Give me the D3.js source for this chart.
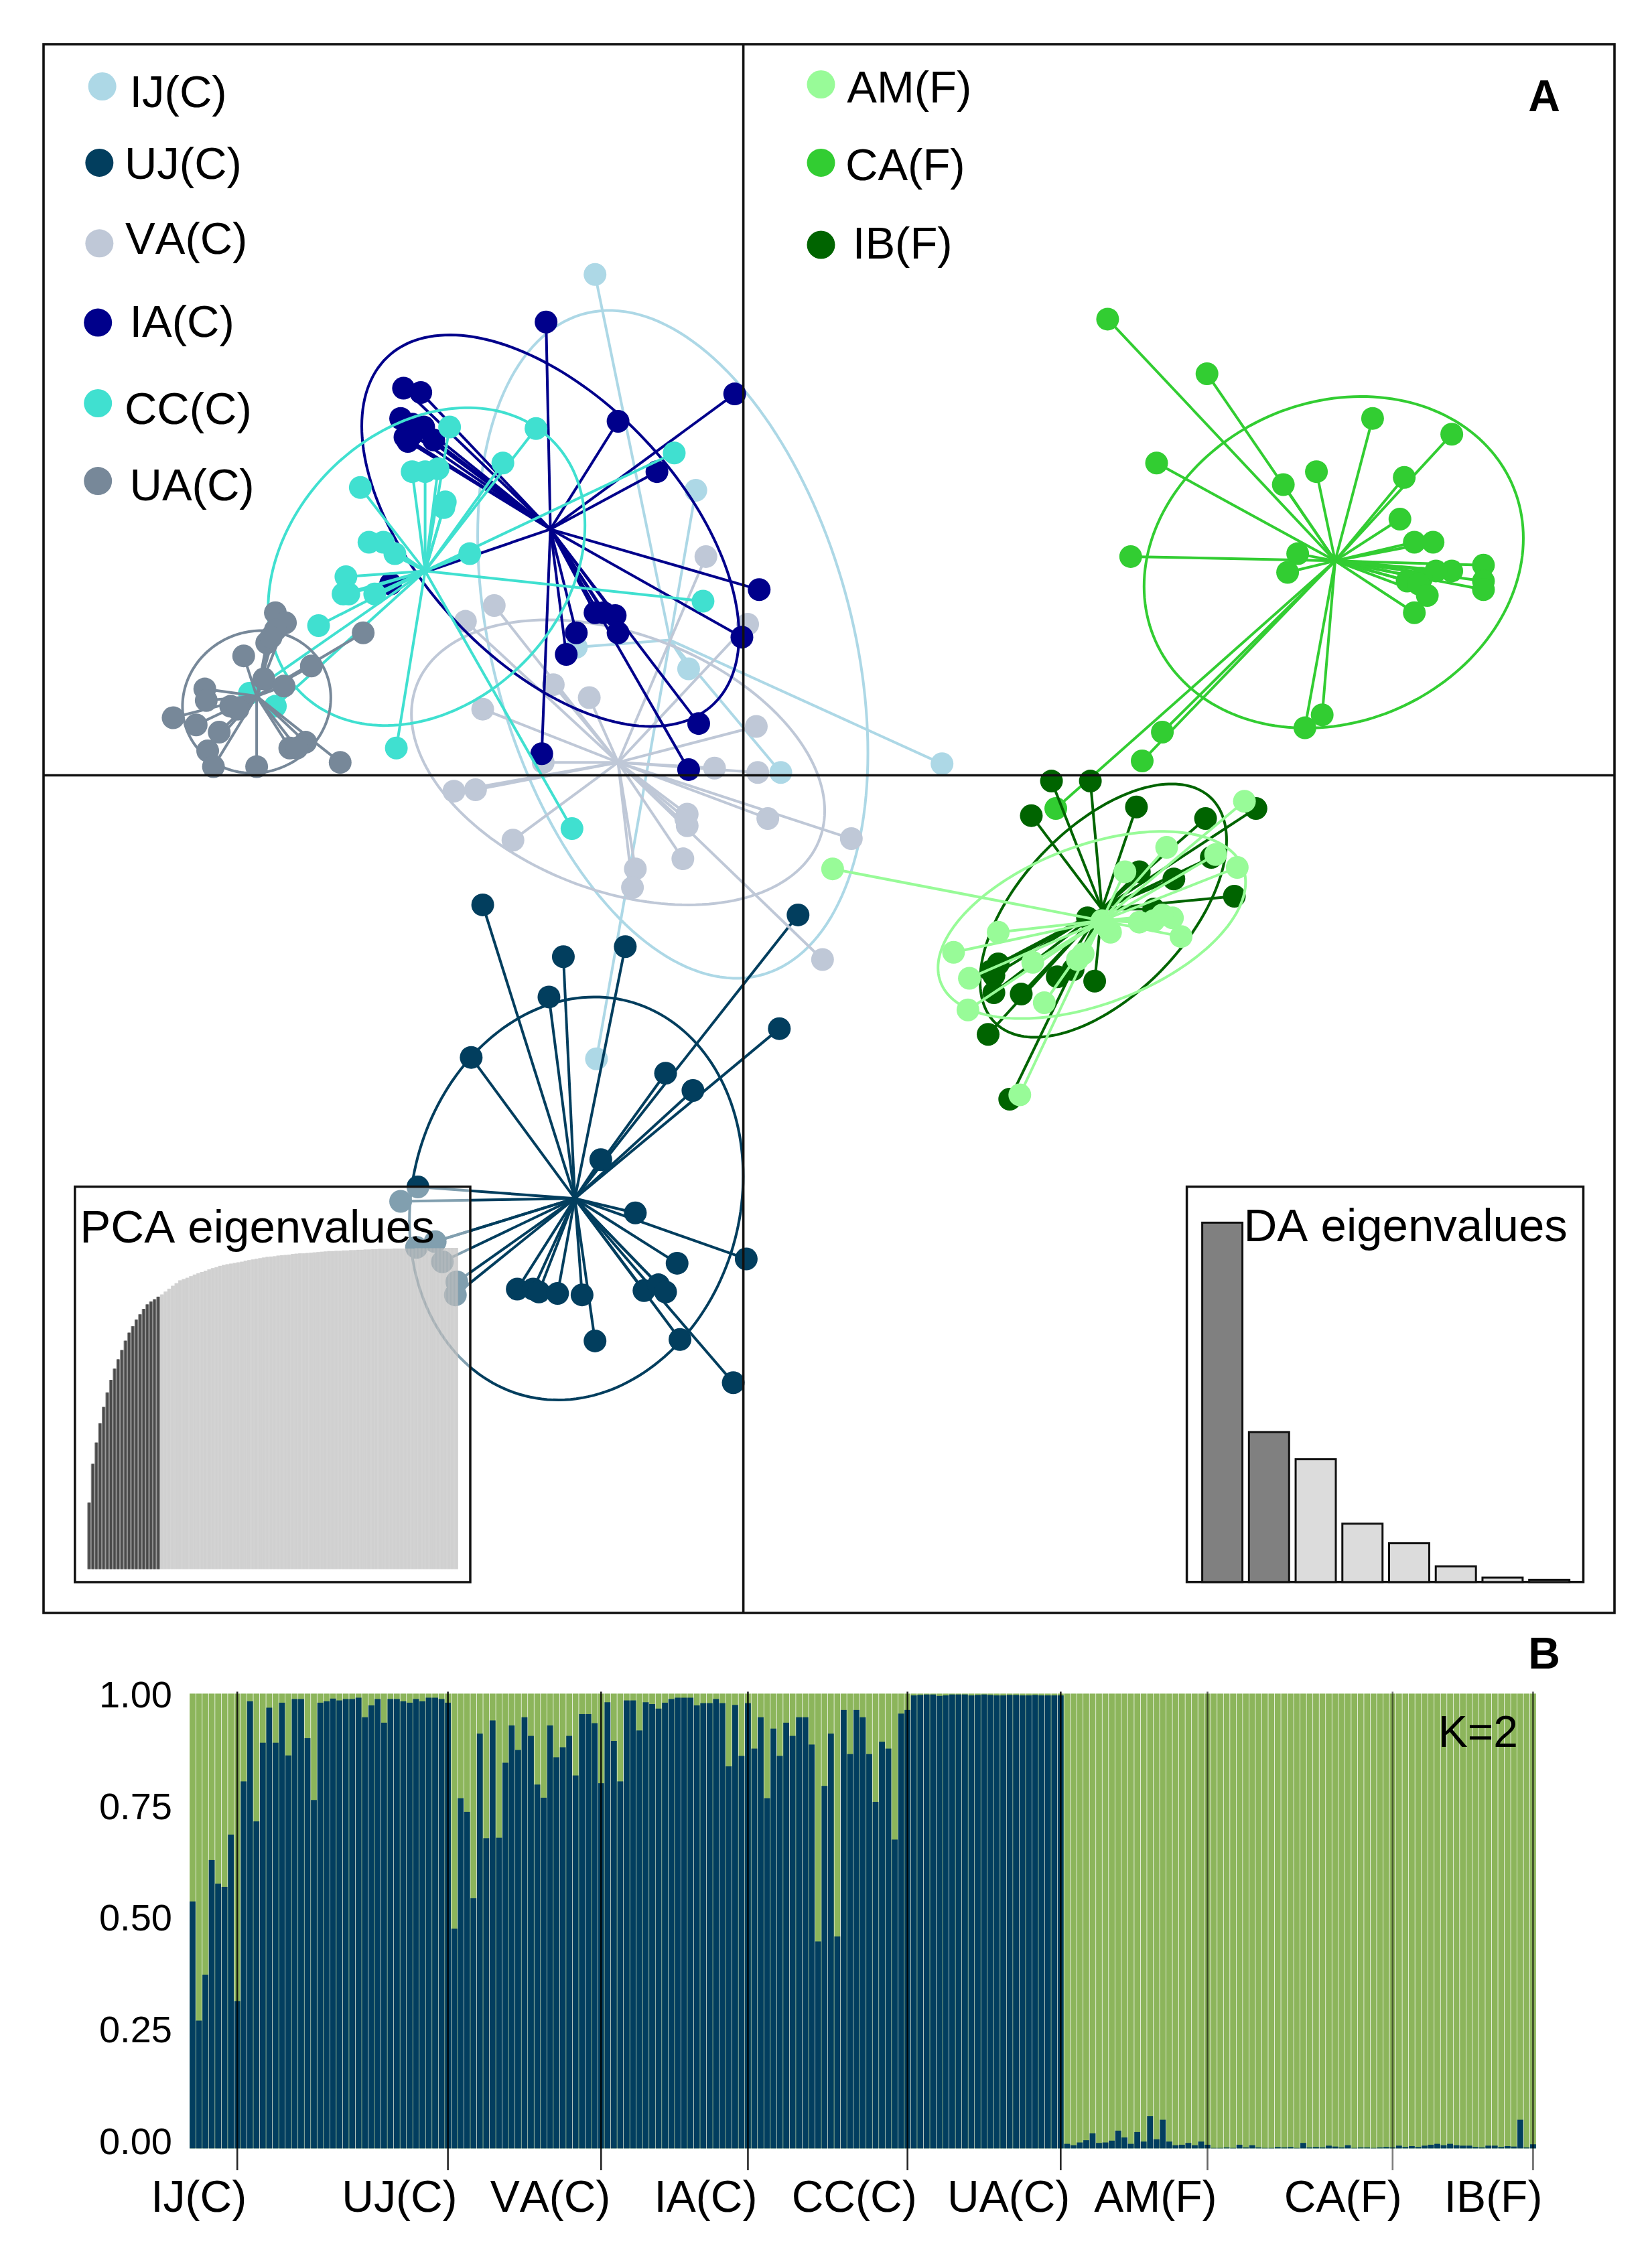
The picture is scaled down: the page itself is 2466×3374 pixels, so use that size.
<!DOCTYPE html>
<html><head><meta charset="utf-8">
<script src="https://cdn.jsdelivr.net/npm/d3@7"></script>
<style>html,body{margin:0;padding:0;background:#fff}svg{display:block}text{font-family:"Liberation Sans",Arial,sans-serif;fill:#000;font-kerning:none}</style>
</head><body><div id="chart"></div>
<script>
// ---------- Panel A data: discriminant scores (LD1, LD2) ----------
const groups = ["IJ(C)","UJ(C)","VA(C)","IA(C)","CC(C)","UA(C)","AM(F)","CA(F)","IB(F)"];
const groupColors = {"IJ(C)":"#ADD8E6","UJ(C)":"#023E5E","VA(C)":"#BFC8D7","IA(C)":"#00008B","CC(C)":"#40E0D0","UA(C)":"#778899","AM(F)":"#98FB98","CA(F)":"#32CD32","IB(F)":"#006400"};
const ijScores=[[-1.03,3.48],[-.33,1.98],[-.38,.74],[-1.16,.89],[1.38,.08],[.26,.02],[-1.02,-1.97]];
const ujScores=[[-1.81,-.90],[-1.25,-1.26],[-.82,-1.19],[-1.35,-1.54],[-1.89,-1.96],[.38,-.97],[.25,-1.76],[-.54,-2.07],[-.35,-2.19],[-.99,-2.67],[-2.26,-2.86],[-2.38,-2.96],[-2.14,-3.24],[-2.27,-3.28],[-2.09,-3.38],[-1.99,-3.52],[-2.00,-3.61],[-.75,-3.04],[.02,-3.36],[-.46,-3.39],[-1.57,-3.57],[-1.46,-3.57],[-1.42,-3.59],[-1.29,-3.60],[-1.12,-3.61],[-1.03,-3.93],[-.69,-3.58],[-.59,-3.54],[-.54,-3.59],[-.44,-3.92],[-.07,-4.22]];
const vaScores=[[-.26,1.52],[-1.73,1.18],[-1.93,1.07],[.03,1.05],[-1.32,.63],[-1.07,.54],[-1.81,.46],[.09,.34],[-1.39,.09],[-.20,.05],[.10,.02],[-2.01,-.11],[-1.86,-.10],[-1.60,-.45],[-.39,-.27],[-.39,-.35],[.17,-.30],[.75,-.44],[-.42,-.58],[-.75,-.65],[-.77,-.78],[.55,-1.28],[-.40,-.30]];
const iaScores=[[-1.37,3.15],[-2.36,2.69],[-2.24,2.66],[-2.38,2.48],[-2.35,2.35],[-2.22,2.42],[-2.30,2.37],[-2.15,2.33],[-.87,2.46],[-.06,2.65],[-.60,2.11],[.11,1.29],[-.01,.96],[-1.16,.99],[-1.23,.84],[-1.03,1.13],[-.97,1.13],[-.89,1.11],[-.87,.99],[-.31,.36],[-.38,.04],[-1.40,.15],[-2.45,1.33],[-2.30,2.44],[-2.33,2.32]];
const ccScores=[[-2.04,2.42],[-1.44,2.41],[-1.67,2.17],[-.48,2.24],[-2.30,2.11],[-2.21,2.11],[-2.12,2.13],[-2.66,2.00],[-2.07,1.90],[-2.08,1.86],[-2.60,1.62],[-2.50,1.62],[-2.42,1.54],[-1.90,1.54],[-2.76,1.38],[-2.74,1.26],[-2.78,1.26],[-2.56,1.26],[-2.95,1.04],[-.28,1.21],[-2.41,.19],[-1.19,-.37],[-3.43,.57],[-3.25,.48]];
const uaScores=[[-3.25,1.13],[-3.18,1.06],[-3.31,.92],[-3.47,.83],[-2.64,.99],[-3.00,.76],[-3.33,.67],[-3.19,.62],[-3.74,.60],[-3.73,.52],[-3.56,.48],[-3.96,.40],[-3.80,.35],[-3.64,.30],[-3.72,.17],[-3.15,.19],[-3.04,.23],[-3.68,.06],[-3.38,.06],[-2.80,.09],[-3.25,1.01],[-3.28,.96],[-3.51,.46],[-3.10,.19]];
const amScores=[[3.48,-.18],[2.94,-.50],[3.28,-.55],[3.43,-.64],[2.65,-.67],[2.49,-1.01],[2.55,-1.09],[2.75,-1.02],[2.98,-.99],[3.04,-1.12],[1.77,-1.09],[1.46,-1.23],[1.57,-1.41],[1.56,-1.63],[2.09,-1.58],[2.01,-1.30],[2.36,-1.24],[1.92,-2.22],[.62,-.65],[2.85,-1.01],[2.91,-.97],[2.52,-1.05],[2.32,-1.28]];
const caScores=[[2.53,3.17],[3.22,2.79],[4.37,2.48],[4.92,2.37],[2.87,2.17],[3.75,2.02],[3.98,2.11],[4.59,2.07],[4.56,1.78],[4.66,1.62],[4.79,1.62],[2.69,1.52],[3.85,1.54],[3.78,1.41],[5.14,1.46],[5.14,1.35],[5.14,1.29],[4.92,1.42],[4.81,1.42],[4.71,1.37],[4.61,1.35],[4.69,1.33],[4.75,1.25],[4.66,1.13],[4.02,.42],[3.90,.33],[2.91,.30],[2.77,.10],[2.17,-.23]];
const ibScores=[[2.14,-.04],[2.41,-.04],[2.00,-.28],[2.73,-.22],[3.21,-.30],[3.56,-.23],[3.25,-.57],[2.99,-.72],[2.75,-.67],[3.41,-.84],[1.77,-1.31],[1.74,-1.39],[1.74,-1.51],[1.93,-1.52],[2.18,-1.40],[2.29,-1.35],[2.44,-1.43],[1.70,-1.80],[1.85,-2.25],[1.72,-1.36],[2.39,-.99],[2.85,-.93]];
const scores={"IJ(C)":ijScores,"UJ(C)":ujScores,"VA(C)":vaScores,"IA(C)":iaScores,"CC(C)":ccScores,"UA(C)":uaScores,"AM(F)":amScores,"CA(F)":caScores,"IB(F)":ibScores};
const centroids={"IJ(C)":[-.51,.94],"UJ(C)":[-1.17,-2.94],"VA(C)":[-.87,.09],"IA(C)":[-1.34,1.71],"CC(C)":[-2.21,1.42],"UA(C)":[-3.38,.55],"AM(F)":[2.49,-1.01],"CA(F)":[4.11,1.49],"IB(F)":[2.49,-.93]};
// inertia ellipses: centre LD1, centre LD2, half-extent LD1, half-extent LD2, correlation
const ellipses={"IJ(C)":[-.49,.91,1.355,2.32,-.325],"UJ(C)":[-1.16,-2.94,1.159,1.40,.11],"VA(C)":[-.87,.09,1.435,.99,-.34],"IA(C)":[-1.34,1.70,1.31,1.36,-.534],"CC(C)":[-2.20,1.45,1.10,1.104,.26],"UA(C)":[-3.38,.51,.515,.495,.06],"AM(F)":[2.42,-1.04,1.068,.65,.457],"CA(F)":[4.10,1.48,1.317,1.152,.145],"IB(F)":[2.50,-.94,.856,.88,.555]};
const drawOrder=["IJ(C)","UJ(C)","VA(C)","IA(C)","CC(C)","UA(C)","CA(F)","IB(F)","AM(F)"];
// inset eigenvalues
const pcaCumulative=[.207,.328,.394,.454,.505,.55,.589,.624,.653,.682,.711,.736,.756,.777,.793,.81,.824,.833,.84,.848,
.855,.864,.873,.882,.89,.899,.903,.907,.912,.917,.921,.925,.929,.933,.937,.94,.944,.947,.949,.951,.953,.955,.957,.96,.962,.964,.966,.968,.97,.972,.973,.974,.976,.977,.978,.979,.981,.982,.983,.983,.984,.985,.986,.987,.988,.989,.99,.99,.991,.991,.992,.992,.993,.993,.994,.994,.995,.995,.996,.996,.997,.997,.997,.997,.998,.998,.998,.998,.998,.998,.999,.999,.999,.999,.999,.999,.999,.999,1,1,1,1];
const pcaRetained=20;
const daEigen=[6.47,2.70,2.21,1.05,.70,.28,.08,.04];
const daRetained=2;
// ---------- Panel B data: admixture proportions (cluster 1) ----------
const qIJ=[.543,.281,.382,.634,.582,.575,.69,.324];
const qUJ=[.807,.983,.719,.892,.969,.892,.98,.864,.988,.988,.902,.766,.98,.983,.989,.985,.988,.988,.991,.948,.974,.988,.936,.988,.988,.983,.98,.988,.983,.991,.991,.988,.98];
const qVA=[.483,.77,.74,.55,.912,.682,.941,.683,.848,.93,.876,.948,.907,.8,.771,.93,.86,.882,.907,.82,.955,.955,.935,.803];
const qIA=[.981,.896,.807,.985,.985,.919,.981,.977,.967,.98,.988,.991,.991,.991,.974,.979,.979,.988,.979,.84,.975,.863,.979];
const qCC=[.879,.948,.77,.923,.863,.936,.907,.948,.948,.888,.455,.797,.912,.466,.964,.867,.964,.948,.867,.762,.894,.879,.679,.956,.964];
const qUA=[.996,.997,.998,.998,.995,.996,.998,.998,.998,.996,.997,.998,.997,.996,.996,.997,.997,.996,.996,.997,.996,.996,.996,.996];
const qAM=[.01,.007,.013,.018,.033,.012,.013,.017,.039,.024,.01,.036,.015,.071,.02,.063,.015,.007,.008,.012,.007,.015,.008];
const qCA=[.001,.001,.002,.001,.008,.002,.007,.002,.001,.001,.003,.002,.003,.001,.012,.002,.003,.002,.006,.004,.002,.007,.001,.002,.002,.001,.002,.003,.002];
const qIB=[.006,.003,.005,.003,.006,.008,.01,.007,.01,.007,.006,.006,.003,.002,.006,.006,.003,.005,.004,.063,.002,.009];
const qByGroup=[qIJ,qUJ,qVA,qIA,qCC,qUA,qAM,qCA,qIB];
const yTicks=[0,.25,.5,.75,1];

// ---------- Layout ----------
const S=2.15;
const W=2466,H=3374;
const frame={l:65,r:2410,t:66,b:2408};
const svg=d3.select("#chart").append("svg").attr("width",W).attr("height",H).attr("viewBox",`0 0 ${W} ${H}`);
svg.append("rect").attr("width",W).attr("height",H).attr("fill","#fff");

// ---------- Panel A ----------
const x=d3.scaleLinear().domain([-4.86,6.05]).range([frame.l,frame.r]);
const y=d3.scaleLinear().domain([5.08,-5.82]).range([frame.t,frame.b]);
const A=svg.append("g");
const ellipsePath=d3.line().x(d=>x(d[0])).y(d=>y(d[1])).curve(d3.curveLinearClosed);
drawOrder.forEach(g=>{
  const c=groupColors[g],[cx,cy,rx,ry,rho]=ellipses[g],ctr=centroids[g];
  const pts=d3.range(0,360,2).map(a=>{const t=a*Math.PI/180;return [cx+rx*Math.cos(t),cy+ry*(rho*Math.cos(t)+Math.sqrt(1-rho*rho)*Math.sin(t))];});
  const gg=A.append("g");
  gg.append("path").attr("d",ellipsePath(pts)).attr("fill","none").attr("stroke",c).attr("stroke-width",4);
  gg.selectAll("line").data(scores[g]).join("line")
    .attr("x1",x(ctr[0])).attr("y1",y(ctr[1])).attr("x2",d=>x(d[0])).attr("y2",d=>y(d[1]))
    .attr("stroke",c).attr("stroke-width",4);
  gg.selectAll("circle").data(scores[g]).join("circle")
    .attr("cx",d=>x(d[0])).attr("cy",d=>y(d[1])).attr("r",17).attr("fill",c);
});
A.append("line").attr("x1",x(0)).attr("x2",x(0)).attr("y1",frame.t).attr("y2",frame.b).attr("stroke","#111").attr("stroke-width",3.6);
A.append("line").attr("x1",frame.l).attr("x2",frame.r).attr("y1",y(0)).attr("y2",y(0)).attr("stroke","#111").attr("stroke-width",3.6);
A.append("rect").attr("x",frame.l).attr("y",frame.t).attr("width",frame.r-frame.l).attr("height",frame.b-frame.t).attr("fill","none").attr("stroke","#111").attr("stroke-width",3.6);

// legend
const legendLayout=[
 ["IJ(C)",71,60,90,74.5],["UJ(C)",69,113,86.5,124],["VA(C)",69,169,87,176.5],["IA(C)",68,224,90,234],["CC(C)",68,280,86.5,294.5],["UA(C)",68,334,90,347.5],
 ["AM(F)",570,58.6,588,71],["CA(F)",570,113,587,125],["IB(F)",570,170,592,179.5]];
legendLayout.forEach(([n,cx,cy,tx,ty])=>{
  A.append("circle").attr("cx",cx*S).attr("cy",cy*S).attr("r",21).attr("fill",groupColors[n]);
  A.append("text").attr("x",tx*S).attr("y",ty*S).attr("font-size",67).text(n);
});
A.append("text").attr("x",1061*S).attr("y",77.4*S).attr("font-size",66).attr("font-weight","bold").text("A");

// PCA inset
const pcaBox={l:52*S,r:326.5*S,t:824*S,b:1098.6*S};
const pca=svg.append("g");
pca.append("rect").attr("x",pcaBox.l).attr("y",pcaBox.t).attr("width",pcaBox.r-pcaBox.l).attr("height",pcaBox.b-pcaBox.t)
  .attr("fill","#fff").attr("fill-opacity",.5).attr("stroke","#111").attr("stroke-width",3.5);
const px=d3.scaleBand().domain(d3.range(pcaCumulative.length)).range([60.6*S,318*S]);
const py=d3.scaleLinear().domain([0,1]).range([1089.6*S,866.5*S]);
pca.selectAll("rect.u").data(pcaCumulative).join("rect").attr("class","u")
  .attr("x",(d,i)=>px(i)).attr("width",px.bandwidth()+.3).attr("y",d=>py(d)).attr("height",d=>py(0)-py(d))
  .attr("fill",(d,i)=>i<pcaRetained?"#8e8e8e":"#bcbcbc").attr("fill-opacity",(d,i)=>i<pcaRetained?1:.62);
pca.selectAll("rect.i").data(pcaCumulative).join("rect").attr("class","i")
  .attr("x",(d,i)=>px(i)+px.bandwidth()*.2).attr("width",px.bandwidth()*.6).attr("y",d=>py(d)).attr("height",d=>py(0)-py(d))
  .attr("fill",(d,i)=>i<pcaRetained?"#4a4a4a":"#c8c8c8").attr("fill-opacity",(d,i)=>i<pcaRetained?1:.3);
pca.append("text").attr("x",55.5*S).attr("y",862.8*S).attr("font-size",69).text("PCA eigenvalues");

// DA inset
const da=svg.append("g");
da.append("rect").attr("x",824*S).attr("y",824*S).attr("width",275.3*S).attr("height",274.5*S).attr("fill","#fff").attr("stroke","#111").attr("stroke-width",3.5);
const dx=d3.scaleBand().domain(d3.range(daEigen.length)).range([834.7*S,1089.6*S]).paddingInner(.14);
const dy=d3.scaleLinear().domain([0,6.47]).range([1098.5*S,849*S]);
da.selectAll("rect.b").data(daEigen).join("rect").attr("class","b")
  .attr("x",(d,i)=>dx(i)).attr("width",dx.bandwidth()).attr("y",d=>dy(d)).attr("height",d=>dy(0)-dy(d))
  .attr("fill",(d,i)=>i<daRetained?"#808080":"#DCDCDC").attr("stroke","#111").attr("stroke-width",3);
da.append("text").attr("x",863.5*S).attr("y",862*S).attr("font-size",69).text("DA eigenvalues");

// ---------- Panel B ----------
const individuals=[];const lastIndex=[];
qByGroup.forEach(a=>{a.forEach(q=>individuals.push(q));lastIndex.push(individuals.length-1);});
const bx=d3.scaleBand().domain(d3.range(individuals.length)).range([131.5*S,1066.6*S]).paddingInner(.08).paddingOuter(.04);
const by=d3.scaleLinear().domain([0,1]).range([1491.8*S,1176*S]);
const B=svg.append("g");
B.selectAll("rect.g2").data(individuals).join("rect").attr("class","g2")
  .attr("x",(d,i)=>bx(i)).attr("width",bx.bandwidth()).attr("y",by(1)).attr("height",by(0)-by(1)).attr("fill","#8CB55B");
B.selectAll("rect.g1").data(individuals).join("rect").attr("class","g1")
  .attr("x",(d,i)=>bx(i)).attr("width",bx.bandwidth()).attr("y",d=>by(d)).attr("height",d=>by(0)-by(d)).attr("fill","#023E5F");
const tickOpacity=[.85,.85,.85,.85,.85,.85,.6,.5,.6];
lastIndex.forEach((li,k)=>{
  const tx=bx(li)+bx.bandwidth()/2;
  B.append("line").attr("x1",tx).attr("x2",tx).attr("y1",by(1)-3).attr("y2",1507*S).attr("stroke","#000").attr("stroke-opacity",tickOpacity[k]).attr("stroke-width",2.6);
  B.append("text").attr("x",tx+14).attr("y",1536*S).attr("text-anchor","end").attr("font-size",66).text(groups[k]);
});
const labelY=d3.scaleLinear().domain([0,1]).range([1486*S,1176*S]);
const yAxis=d3.axisLeft(labelY).tickValues(yTicks).tickFormat(d3.format(".2f")).tickSize(0).tickPadding(0);
const ya=B.append("g").attr("transform",`translate(${119.5*S},0)`).call(yAxis);
ya.select(".domain").remove();
ya.selectAll("text").attr("font-size",56).attr("font-family",'"Liberation Sans",Arial,sans-serif').attr("dy","0.36em");
B.append("text").attr("x",1061*S).attr("y",1158.6*S).attr("font-size",66).attr("font-weight","bold").text("B");
B.append("text").attr("x",998.5*S).attr("y",1212.8*S).attr("font-size",66).text("K=2");
</script></body></html>
